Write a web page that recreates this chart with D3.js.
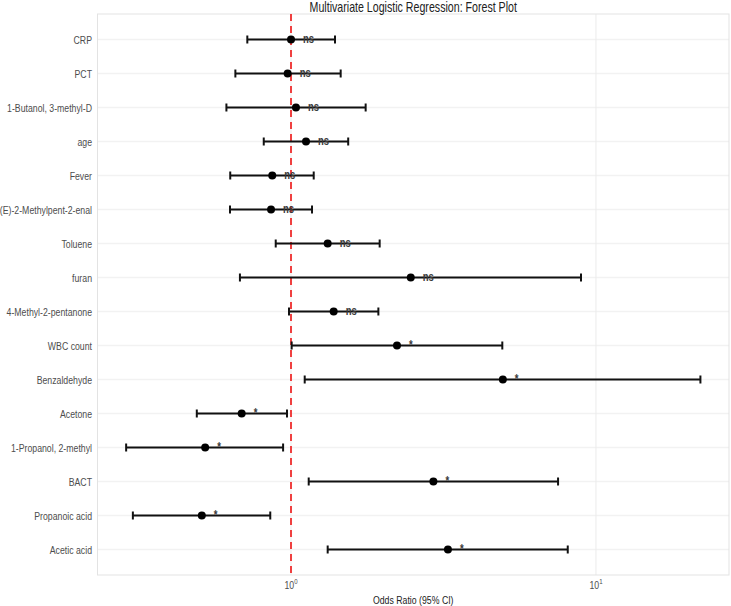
<!DOCTYPE html>
<html>
<head>
<meta charset="utf-8">
<title>Forest Plot</title>
<style>
    body { margin: 0; background: #fff; }
    text { font-family: "Liberation Sans", Arial, sans-serif; }
</style>
</head>
<body>
<svg width="731" height="606"></svg>
<script src="https://cdnjs.cloudflare.com/ajax/libs/d3/7.8.5/d3.min.js"></script>
<script>
// variables, top to bottom
const terms = ["CRP", "PCT", "1-Butanol, 3-methyl-D", "age", "Fever", "(E)-2-Methylpent-2-enal",
    "Toluene", "furan", "4-Methyl-2-pentanone", "WBC count", "Benzaldehyde", "Acetone",
    "1-Propanol, 2-methyl", "BACT", "Propanoic acid", "Acetic acid"];
const oddsRatio = [1.00, 0.975, 1.038, 1.12, 0.868, 0.860, 1.319, 2.47, 1.38, 2.226, 4.95, 0.689, 0.523, 2.93, 0.510, 3.27];
const ciLower  = [0.719, 0.657, 0.614, 0.814, 0.632, 0.631, 0.891, 0.680, 0.985, 1.005, 1.109, 0.491, 0.288, 1.143, 0.303, 1.319];
const ciUpper  = [1.394, 1.455, 1.757, 1.54, 1.187, 1.172, 1.953, 8.93, 1.934, 4.93, 22.0, 0.970, 0.942, 7.51, 0.855, 8.08];
const sigLabel = ["ns", "ns", "ns", "ns", "ns", "ns", "ns", "ns", "ns", "*", "*", "*", "*", "*", "*", "*"];
const xTicks = [1, 10];

const rows = terms.map((t, i) => ({ term: t, or: oddsRatio[i], lo: ciLower[i], hi: ciUpper[i], sig: sigLabel[i] }));

const svg = d3.select("svg");
const margin = { left: 97.5, right: 2, top: 14, bottom: 31 };
const W = +svg.attr("width"), H = +svg.attr("height");
const x0 = margin.left, x1 = W - margin.right, y0 = margin.top, y1 = H - margin.bottom;

// the original text is a condensed face, squeeze it horizontally
const squeeze = 0.76;
const at = (fx, fy) => (d, i) => "translate(" + fx(d, i) + "," + fy(d, i) + ") scale(" + squeeze + ",1)";

const x = d3.scaleLog().domain([0.232, 27.3]).range([x0, x1]);
const y = d3.scalePoint().domain(terms).range([y0, y1]).padding(0.75);

// panel grid
svg.append("g").selectAll("line").data(terms).join("line")
    .attr("x1", x0).attr("x2", x1)
    .attr("y1", d => y(d)).attr("y2", d => y(d))
    .attr("stroke", "#f2f2f2").attr("stroke-width", 1.5);
svg.append("g").selectAll("line").data(xTicks).join("line")
    .attr("x1", d => x(d)).attr("x2", d => x(d))
    .attr("y1", y0).attr("y2", y1)
    .attr("stroke", "#ebebeb").attr("stroke-width", 1);
svg.append("rect")
    .attr("x", x0).attr("y", y0).attr("width", x1 - x0).attr("height", y1 - y0)
    .attr("fill", "none").attr("stroke", "#e3e3e3");

// reference line at OR = 1
svg.append("line")
    .attr("x1", x(1)).attr("x2", x(1)).attr("y1", y0).attr("y2", y1)
    .attr("stroke", "#ef4040").attr("stroke-width", 2).attr("stroke-dasharray", "7,5");

// error bars
const g = svg.append("g").selectAll("g").data(rows).join("g");
g.append("line")
    .attr("x1", d => x(d.lo)).attr("x2", d => x(d.hi))
    .attr("y1", d => y(d.term)).attr("y2", d => y(d.term))
    .attr("stroke", "#111").attr("stroke-width", 2);
g.append("line")
    .attr("x1", d => x(d.lo)).attr("x2", d => x(d.lo))
    .attr("y1", d => y(d.term) - 4).attr("y2", d => y(d.term) + 4)
    .attr("stroke", "#111").attr("stroke-width", 2);
g.append("line")
    .attr("x1", d => x(d.hi)).attr("x2", d => x(d.hi))
    .attr("y1", d => y(d.term) - 4).attr("y2", d => y(d.term) + 4)
    .attr("stroke", "#111").attr("stroke-width", 2);
g.append("circle")
    .attr("cx", d => x(d.or)).attr("cy", d => y(d.term)).attr("r", 4)
    .attr("fill", "#000");
g.append("text")
    .attr("transform", at(d => x(d.or) + 12, d => y(d.term) + 3.5))
    .attr("font-size", 12.5).attr("font-weight", "bold").attr("fill", "#3a3a3a")
    .text(d => d.sig);

// y labels
svg.append("g").selectAll("text").data(terms).join("text")
    .attr("transform", at(() => x0 - 5.5, d => y(d) + 4))
    .attr("text-anchor", "end").attr("font-size", 11.5).attr("fill", "#4d4d4d")
    .text(d => d);

// x tick labels as 10^k
const tl = svg.append("g").selectAll("text").data(xTicks).join("text")
    .attr("transform", at(d => x(d), () => 589))
    .attr("text-anchor", "middle").attr("font-size", 11.5).attr("fill", "#4d4d4d");
tl.append("tspan").text("10");
tl.append("tspan").attr("dy", -5).attr("font-size", 8).text(d => Math.round(Math.log10(d)));

svg.append("text")
    .attr("transform", at(() => (x0 + x1) / 2, () => 604))
    .attr("text-anchor", "middle").attr("font-size", 11.5).attr("fill", "#222")
    .text("Odds Ratio (95% CI)");

svg.append("text")
    .attr("transform", at(() => (x0 + x1) / 2, () => 12))
    .attr("text-anchor", "middle").attr("font-size", 14).attr("fill", "#222")
    .text("Multivariate Logistic Regression: Forest Plot");
</script>
</body>
</html>
